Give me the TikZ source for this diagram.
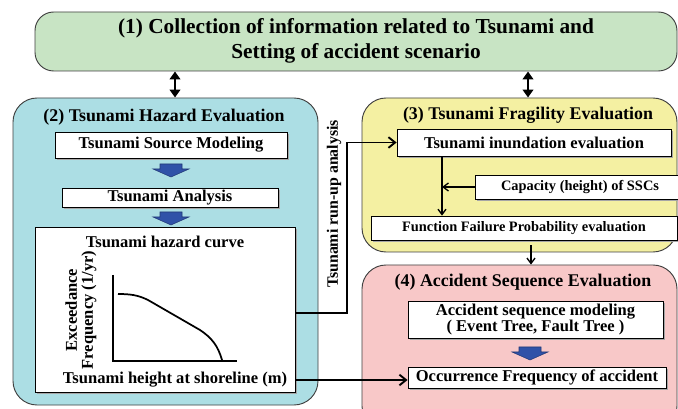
\documentclass[tikz,border=0pt]{standalone}
\usepackage{fontspec}
\setmainfont{Liberation Serif}
\usetikzlibrary{arrows.meta,fit,shadows}
\definecolor{cgreen}{RGB}{200,228,196}
\definecolor{cblue}{RGB}{172,222,228}
\definecolor{cyellow}{RGB}{244,240,162}
\definecolor{cpink}{RGB}{248,200,200}
\definecolor{carrow}{RGB}{48,82,168}
\tikzset{
  bigbox/.style={draw=black!75, line width=0.7pt, rounded corners=14pt, inner sep=0pt},
  wbox/.style={draw=black, fill=white, line width=0.6pt, inner sep=0pt,
     drop shadow={shadow xshift=1.3pt, shadow yshift=-1.3pt, fill=black!35, opacity=1}},
  ttl/.style={font=\bfseries\fontsize{16}{18.5}\selectfont, align=center},
  sttl/.style={font=\bfseries\fontsize{13.4}{15}\selectfont},
  btxt/.style={font=\bfseries\fontsize{12.4}{13}\selectfont, align=center, inner sep=0pt},
  stxt/.style={font=\bfseries\fontsize{10.8}{12}\selectfont, inner sep=0pt},
  dbl/.style={line width=1.8pt, {Triangle[length=6pt,width=8pt]}-{Triangle[length=6pt,width=8pt]}},
  thk/.style={line width=1.4pt, -{Straight Barb[length=5pt,width=8pt]}},
  thn/.style={line width=1pt, -{Straight Barb[length=4pt,width=6pt]}},
  blockarrow/.pic={\filldraw[fill=carrow, draw=carrow!70!black, line width=0.4pt]
     (-11,0) -- (11,0) -- (11,5) -- (18,5) -- (0,13) -- (-18,5) -- (-11,5) -- cycle;}
}
\begin{document}
\begin{tikzpicture}[x=0.75pt,y=-0.75pt]
\clip (0,0) rectangle (678,409);
\fill[white] (0,0) rectangle (678,409);
% big boxes
\node[bigbox, fill=cgreen, fit={(35,12)(677,71)}] (b1) {};
\node[ttl] (t1) at (356,41) {(1) Collection of information related to Tsunami and\\Setting of accident scenario};
\node[bigbox, fill=cblue, rounded corners=18pt, fit={(13,98)(318,405)}] (b2) {};
\node[bigbox, fill=cyellow, rounded corners=18pt, fit={(362,98)(677,252)}] (b3) {};
\node[bigbox, fill=cpink, rounded corners=18pt, fit={(362,265)(677,430)}] (b4) {};
% titles
\node[sttl] (t2) at (164,117) {(2) Tsunami Hazard Evaluation};
\node[sttl] (t3) at (528,115) {(3) Tsunami Fragility Evaluation};
\node[sttl] (t4) at (523,282) {(4) Accident Sequence Evaluation};
% box 2 contents
\node[wbox, fit={(55,132)(287,158)}, label={[btxt]center:Tsunami Source Modeling}] (src) {};
\node[wbox, fit={(62,188)(278,207)}, label={[btxt]center:Tsunami Analysis}] (ana) {};
\node[wbox, fit={(35,227)(295,392)}] (hc) {};
\node[btxt] (hct) at (165,242) {Tsunami hazard curve};
\node[btxt] (hcx) at (175,380) {Tsunami height at shoreline (m)};
\node[btxt, rotate=90] (hcy) at (81,310) {Exceedance\\[-1pt]Frequency (1/yr)};
\draw[line width=1.3pt] (113,275) -- (113,361) -- (237,361);
\draw[line width=1.3pt] (118,294) .. controls (130,294) and (138,295) .. (148,300)
  -- (200,330) .. controls (212,338) and (218,346) .. (222,360);
\pic at (171,164) {blockarrow};
\pic at (171,212) {blockarrow};
% box 3 contents
\node[wbox, fit={(397,129)(671,156)}, label={[btxt]center:Tsunami inundation evaluation}] (inu) {};
\node[wbox, fit={(475,175)(690,199)}] (cap) {};
\node[stxt] (capt) at (580,187) {Capacity (height) of SSCs};
\node[wbox, fit={(371,216)(677,240)}, label={[stxt]center:Function Failure Probability evaluation}] (ffp) {};
% box 4 contents
\node[wbox, fit={(408,301)(663,338)}, label={[btxt]center:{Accident sequence modeling\\[-1pt]( Event Tree, Fault Tree )}}] (asm) {};
\node[wbox, fit={(408,367)(666,388)}, label={[btxt]center:Occurrence Frequency of accident}] (occ) {};
\pic at (530,347) {blockarrow};
% connectors
\coordinate (xa) at (175,0);
\coordinate (xb) at (528,0);
\draw[dbl] (b1.south -| xa) -- (b2.north -| xa);
\draw[dbl] (b1.south -| xb) -- (b3.north -| xb);
\coordinate (xr) at (347,0);
\coordinate (yr) at (0,313);
\draw[thk] (hc.east |- yr) -| (xr |- inu.west) -- (inu.west);
\coordinate (yo) at (0,380);
\draw[thk] (hc.east |- yo) -- (occ.west |- yo);
\coordinate (xi) at (442,0);
\draw[thn] (inu.south -| xi) -- (ffp.north -| xi);
\draw[thn] (cap.west) -- (xi |- cap.west);
\coordinate (xd) at (531,0);
\draw[thn] (b3.south -| xd) ++(0,-7) -- (b4.north -| xd);
\node[font=\bfseries\fontsize{11.9}{13}\selectfont, rotate=90] (ru) at (334,204) {Tsunami run-up analysis};
\end{tikzpicture}
\end{document}
